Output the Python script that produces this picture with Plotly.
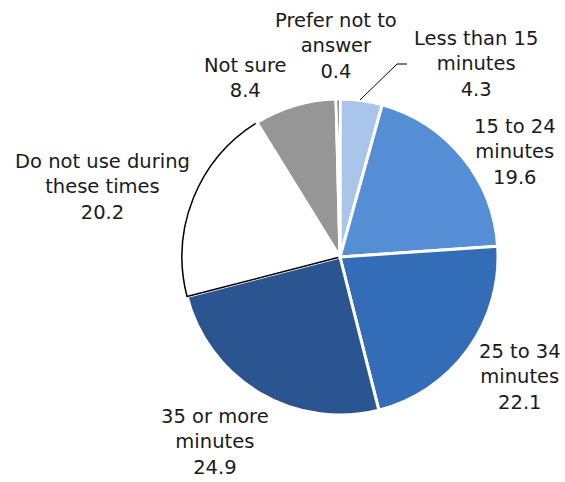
import plotly.graph_objects as go

W, H = 565, 482

categories = ["Less than 15 minutes", "15 to 24 minutes", "25 to 34 minutes",
              "35 or more minutes", "Do not use during these times", "Not sure",
              "Prefer not to answer"]
values = [4.3, 19.6, 22.1, 24.9, 20.2, 8.4, 0.4]
label_text = ["Less than 15<br>minutes", "15 to 24<br>minutes", "25 to 34<br>minutes",
              "35 or more<br>minutes", "Do not use during<br>these times", "Not sure",
              "Prefer not to<br>answer"]

colors = ["#A9C6EA", "#558ED5", "#346DB7", "#2A5590", "#FFFFFF", "#969696", "#262626"]
line_colors = ["#FFFFFF", "#FFFFFF", "#FFFFFF", "#FFFFFF", "#000000", "#FFFFFF", "#FFFFFF"]
line_widths = [3, 3, 3, 3, 1.5, 3, 3]

# label anchor positions in pixels (center x, center y of text block)
label_pos = [(476, 64), (515, 152), (520, 377), (215, 442), (102, 187), (245, 78), (336, 46)]

cx, cy, r = 340, 257, 158

fig = go.Figure(go.Pie(
    labels=categories, values=values, sort=False, direction="clockwise", rotation=0,
    marker=dict(colors=colors, line=dict(color=line_colors, width=line_widths)),
    textinfo="none", hoverinfo="label+value", showlegend=False,
    domain=dict(x=[(cx - r) / W, (cx + r) / W], y=[(H - cy - r) / H, (H - cy + r) / H]),
))

for txt, v, (px, py) in zip(label_text, values, label_pos):
    fig.add_annotation(x=px / W, y=1 - py / H, xref="paper", yref="paper",
                       text=f"{txt}<br>{v}", showarrow=False, align="center",
                       xanchor="center", yanchor="middle",
                       font=dict(family="DejaVu Sans", size=19.5, color="#1A1A1A"))

# leader line for "Less than 15 minutes"
fig.add_shape(type="path", xref="paper", yref="paper",
              path=f"M {407/W} {1-64/H} L {397/W} {1-64/H} L {360/W} {1-100/H}",
              line=dict(color="#000000", width=1))

fig.update_layout(width=W, height=H, margin=dict(l=0, r=0, t=0, b=0),
                  paper_bgcolor="#FFFFFF", plot_bgcolor="#FFFFFF",
                  font=dict(family="DejaVu Sans"))

fig.write_html("out.html", config={"displayModeBar": False},
               post_script="document.body.style.margin='0px';")
